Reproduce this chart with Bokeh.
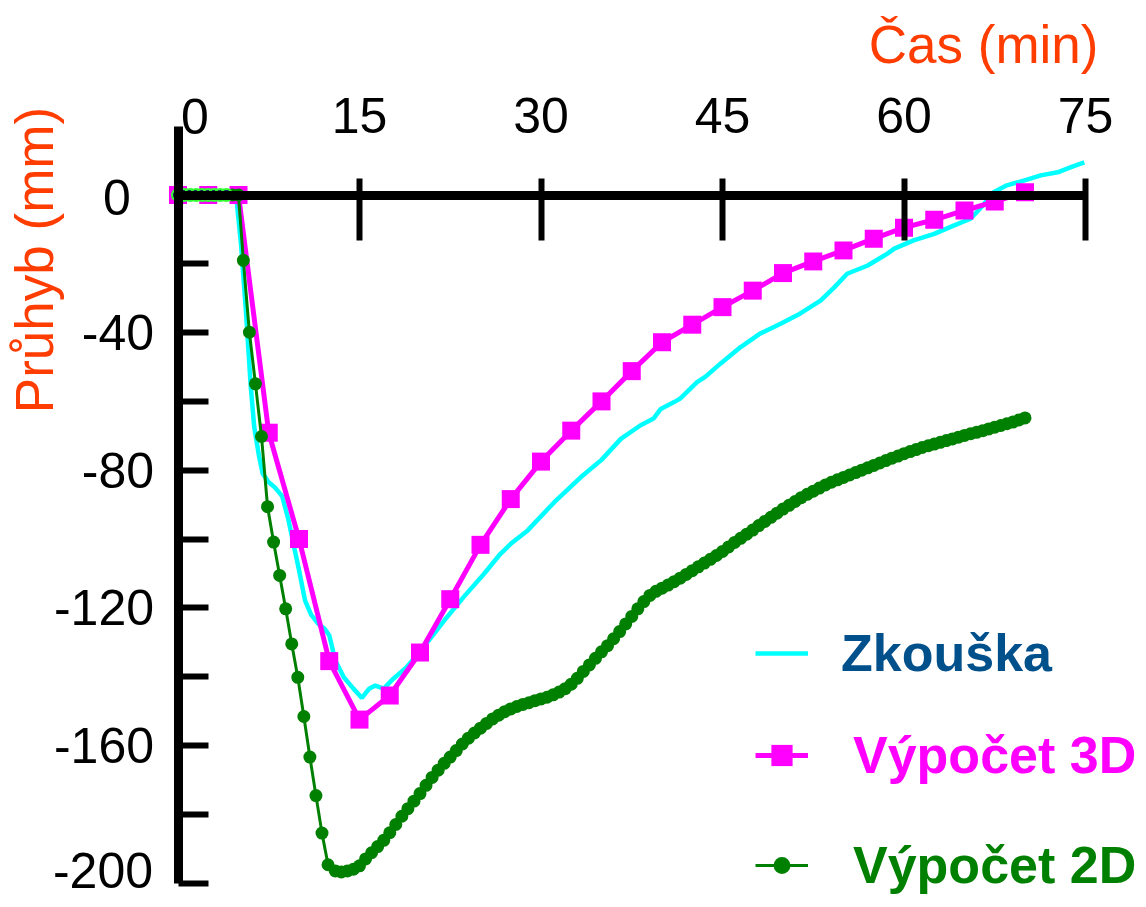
import math
from bokeh.plotting import figure
from bokeh.models import (LinearAxis, FixedTicker, Range1d, Legend, LegendItem, Label)
from bokeh.embed import file_html
from bokeh.resources import INLINE

# ---------------- data ----------------
x_ticks = [0, 15, 30, 45, 60, 75]
y_label_ticks = [-200, -160, -120, -80, -40, 0]
y_minor_ticks = [-180, -140, -100, -60, -20]

# Zkouška (test)
test_t = [0, 1, 2, 3, 4, 4.8, 5.2, 5.6, 6.0, 6.3, 6.7, 7.0, 7.5, 8.0, 8.6, 9.1, 9.6,
          10.0, 10.5, 11.0, 11.6, 12.1, 12.5, 13.0, 13.7, 14.5, 15.2, 15.8, 16.3,
          17.0, 17.8, 18.9, 20.3, 22.0, 23.6, 25.3, 26.65, 27.5, 28.9, 31.1, 33.3,
          35.0, 36.6, 38.2, 39.3, 39.9, 41.0, 41.5, 42.9, 43.6, 44.8, 46.5, 48.1,
          49.8, 51.4, 53.1, 54.2, 55.3, 57.0, 58.6, 59.2, 60.8, 62.5, 64.1, 65.5,
          66.5, 67.4, 68.5, 69.9, 71.3, 72.7, 73.8, 74.9]
test_y = [0, 0, 0, 0, 0, 0, -14, -33, -55, -67.5, -76, -81, -83.5, -85, -87.5, -94,
          -102.4, -109, -117.9, -122, -124.7, -126, -128, -135.3, -140.2, -143.5,
          -146.2, -143.5, -142.6, -143.5, -140.6, -137.3, -131.4, -123.7, -116.9,
          -110.1, -104.3, -101.4, -97.5, -89.3, -82.0, -77.0, -70.9, -67.0, -65.0,
          -62.2, -60.2, -59.2, -54.4, -52.8, -49.1, -44.2, -40.3, -37.4, -34.5,
          -30.7, -27.0, -22.9, -20.5, -17.1, -15.6, -13.2, -11.3, -8.9, -6.9, -3.1,
          0.8, 2.8, 4.2, 5.7, 6.6, 8.1, 9.5]

# Výpočet 3D
calc3d_t = [0, 2.5, 5, 7.5, 10, 12.5, 15, 17.5, 20, 22.5, 25, 27.5, 30, 32.5, 35,
            37.5, 40, 42.5, 45, 47.5, 50, 52.5, 55, 57.5, 60, 62.5, 65, 67.5, 70]
calc3d_y = [0, 0, 0, -69.1, -100, -135.5, -152.5, -145.5, -133, -117.5, -101.7,
            -88.4, -77.5, -68.5, -60, -51.2, -42.8, -37.7, -32.6, -27.8, -22.7,
            -19.3, -16.1, -12.7, -9.5, -7.2, -4.5, -1.9, 0.8]

# Výpočet 2D
calc2d_t = [4.5, 5.0, 5.4, 5.9, 6.4, 6.9, 7.4, 7.9, 8.4, 8.9, 9.4, 9.9, 10.4, 10.9,
            11.4, 11.9, 12.4, 13.0, 13.5, 14.0, 14.5, 15.0, 15.5, 16.0, 16.5, 17.0,
            17.5, 18.0, 18.5, 19.0, 19.5, 20.0, 20.5, 21.0, 21.5, 22.0, 22.5, 23.0,
            23.5, 24.0, 24.5, 25.0, 25.5, 26.0, 26.5, 27.0, 27.5, 28.0, 28.5, 29.0,
            29.5, 30.0, 30.5, 31.0, 31.5, 32.0, 32.5, 33.0, 33.5, 34.0, 34.5, 35.0,
            35.5, 36.0, 36.5, 37.0, 37.5, 38.0, 38.5, 39.0, 39.5, 40.0, 40.5, 41.0,
            41.5, 42.0, 42.5, 43.0, 43.5, 44.0, 44.5, 45.0, 45.5, 46.0, 46.5, 47.0,
            47.5, 48.0, 48.5, 49.0, 49.5, 50.0, 50.5, 51.0, 51.5, 52.0, 52.5, 53.0,
            53.5, 54.0, 54.5, 55.0, 55.5, 56.0, 56.5, 57.0, 57.5, 58.0, 58.5, 59.0,
            59.5, 60.0, 60.5, 61.0, 61.5, 62.0, 62.5, 63.0, 63.5, 64.0, 64.5, 65.0,
            65.5, 66.0, 66.5, 67.0, 67.5, 68.0, 68.5, 69.0, 69.5, 70.0]
calc2d_y = [0, 0, -19.0, -39.9, -54.9, -70.2, -90.6, -100.9, -110.6, -120.3, -130.5,
            -140.2, -151.6, -163.4, -174.6, -185.5, -194.7, -196.5, -196.8, -196.5,
            -196.0, -195.0, -193.0, -191.2, -189.4, -187.6, -185.4, -183.0, -180.6,
            -178.4, -176.2, -174.0, -171.6, -169.3, -167.2, -165.2, -163.4, -161.5,
            -159.6, -157.9, -156.4, -155.0, -153.6, -152.3, -151.2, -150.2, -149.4,
            -148.7, -148.1, -147.6, -147.0, -146.5, -146.0, -145.3, -144.5, -143.5,
            -142.2, -140.5, -138.5, -136.6, -134.7, -132.8, -131.0, -129.0, -126.9,
            -124.7, -122.5, -120.3, -118.2, -116.4, -115.2, -114.3, -113.4, -112.4,
            -111.4, -110.3, -109.2, -108.1, -107.0, -105.9, -104.8, -103.6, -102.3,
            -101.0, -99.8, -98.6, -97.4, -96.1, -94.9, -93.7, -92.5, -91.3, -90.2,
            -89.1, -88.0, -87.0, -86.1, -85.2, -84.3, -83.5, -82.8, -82.1, -81.4,
            -80.7, -80.0, -79.3, -78.6, -77.9, -77.2, -76.5, -75.9, -75.2, -74.6,
            -74.0, -73.4, -72.9, -72.4, -71.9, -71.4, -70.9, -70.4, -69.9, -69.4,
            -69.0, -68.5, -68.0, -67.5, -67.0, -66.5, -66.0, -65.4, -64.8]

# initial (pre-heating) computed points
start_t = [0, 0.5, 1.0, 1.5, 2.0, 2.5, 3.0, 3.5, 4.0]
start_y = [0, 0, 0, 0, 0, 0, 0, 0, 0]

# ---------------- styles ----------------
FONT = "Liberation Sans"
ORANGE = "#FF3D00"
CYAN = "#00FFFF"
MAGENTA = "#FF00FF"
GREEN = "#008000"

W, H = 1138, 899            # canvas size; the frame fills the whole canvas
X0_PX, XPX = 177.5, 12.1    # pixel of t=0 and pixels per minute
Y0_PX, YPX = 194.5, 3.44    # pixel of y=0 and pixels per mm

p = figure(frame_width=W, frame_height=H,
           min_border_left=0, min_border_right=0, min_border_top=0, min_border_bottom=0,
           x_range=Range1d(-X0_PX / XPX, (W - X0_PX) / XPX),
           y_range=Range1d(-(H - Y0_PX) / YPX, Y0_PX / YPX),
           x_axis_location=None, y_axis_location=None,
           toolbar_location=None, output_backend="svg",
           background_fill_color="white", border_fill_color="white",
           outline_line_color=None)
for g in p.grid:
    g.visible = False

xaxis = LinearAxis(fixed_location=0, ticker=FixedTicker(ticks=x_ticks), bounds=(0, 75),
                   axis_line_width=9, axis_line_color="black",
                   major_tick_line_width=6, major_tick_line_color="black",
                   major_tick_in=45, major_tick_out=17,
                   minor_tick_line_color=None,
                   major_label_text_font=FONT, major_label_text_font_size="50px",
                   major_label_text_color="black",
                   major_label_standoff=45,
                   major_label_overrides={0: ""})
p.add_layout(xaxis, "above")

# the first and last y labels are drawn separately (shifted like in the original)
y_first, y_last = y_label_ticks[0], y_label_ticks[-1]
y_overrides = {t: ("" if t in (y_first, y_last) else str(t)) for t in y_label_ticks}
yaxis = LinearAxis(fixed_location=0,
                   ticker=FixedTicker(ticks=y_label_ticks, minor_ticks=y_minor_ticks),
                   bounds=(-200, 20),
                   axis_line_width=9, axis_line_color="black",
                   major_tick_line_width=6, major_tick_line_color="black",
                   major_tick_in=30, major_tick_out=0,
                   minor_tick_line_width=6, minor_tick_line_color="black",
                   minor_tick_in=30, minor_tick_out=0,
                   major_label_text_font=FONT, major_label_text_font_size="50px",
                   major_label_text_color="black",
                   major_label_standoff=24,
                   major_label_overrides=y_overrides)
p.add_layout(yaxis, "left")

# ---------------- series ----------------
r_test = p.line(test_t, test_y, line_color=CYAN, line_width=4.5)
r3_line = p.line(calc3d_t, calc3d_y, line_color=MAGENTA, line_width=5)
r3_pts = p.scatter(calc3d_t, calc3d_y, marker="square", size=18,
                   fill_color=MAGENTA, line_color=None)
r2_line = p.line(calc2d_t, calc2d_y, line_color=GREEN, line_width=3)
r2_pts = p.scatter(calc2d_t, calc2d_y, marker="circle", size=13,
                   fill_color=GREEN, line_color=None)
r0_pts = p.scatter(start_t, start_y, marker="circle", size=12,
                   fill_color="#0B1F5C", line_color="#33FF33", line_width=2)

# ---------------- legends ----------------
def make_legend(label, renderers, color, loc, standoff, gh):
    return Legend(items=[LegendItem(label=label, renderers=renderers)],
                  location=loc, orientation="vertical",
                  padding=0, margin=0, spacing=0,
                  border_line_color=None, background_fill_alpha=0,
                  label_text_font=FONT, label_text_font_style="bold",
                  label_text_font_size="52px", label_text_color=color,
                  glyph_width=53, glyph_height=gh, label_height=64,
                  label_standoff=standoff)

p.add_layout(make_legend("Zkouška", [r_test], "#00508C", (755, 214), 33, 64))
p.add_layout(make_legend("Výpočet 3D", [r3_line, r3_pts], MAGENTA, (755, 112), 45, 64))
p.add_layout(make_legend("Výpočet 2D", [r2_line, r2_pts], GREEN, (755, 2), 45, 42))

# ---------------- texts ----------------
p.add_layout(Label(x=x_ticks[0], y=0, x_offset=17, y_offset=79, text=str(x_ticks[0]),
                   text_align="center", text_baseline="alphabetic",
                   text_font=FONT, text_font_size="50px", text_color="black"))
p.add_layout(Label(x=0, y=y_last, x_offset=-61, y_offset=-2, text=str(y_last),
                   text_align="center", text_baseline="alphabetic",
                   text_font=FONT, text_font_size="50px", text_color="black"))
p.add_layout(Label(x=0, y=y_first, x_offset=-25, y_offset=13, text=str(y_first),
                   text_align="right", text_baseline="alphabetic",
                   text_font=FONT, text_font_size="50px", text_color="black"))
p.add_layout(Label(x=75, y=0, x_offset=13, y_offset=151, text="Čas (min)",
                   text_align="right", text_baseline="alphabetic",
                   text_font=FONT, text_font_size="53px", text_color=ORANGE))
p.add_layout(Label(x=0, y=0, x_offset=-144, y_offset=-65, text="Průhyb (mm)",
                   angle=math.pi / 2, text_align="center", text_baseline="alphabetic",
                   text_font=FONT, text_font_size="53px", text_color=ORANGE))

open("out.html", "w").write(file_html(p, INLINE))
